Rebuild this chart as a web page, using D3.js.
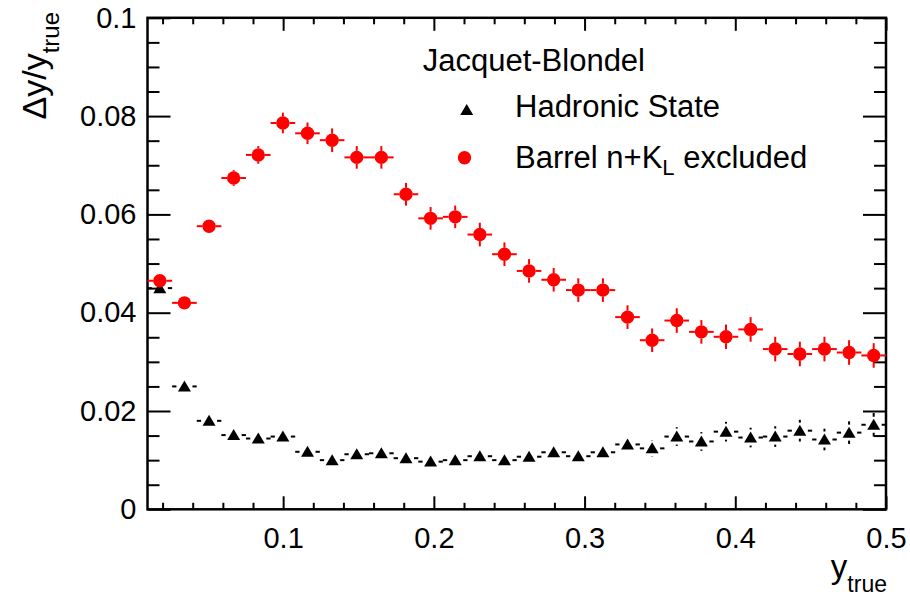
<!DOCTYPE html>
<html>
<head>
<meta charset="utf-8">
<script src="https://cdn.jsdelivr.net/npm/d3@7"></script>
<style>
  html, body { margin: 0; padding: 0; background: #fff; }
  svg { display: block; }
  text { font-family: "Liberation Sans", Arial, Helvetica, sans-serif; }
</style>
</head>
<body>
<svg id="chart" width="910" height="600"></svg>
<script>
// ---- data ----
const binLow = 0.01;
const binHigh = 0.5;
const nBins = 30;
const hadronicValues = [0.0450, 0.0250, 0.0180, 0.0151, 0.0144, 0.0148, 0.0117, 0.0100, 0.0112, 0.0114,
                        0.0104, 0.0097, 0.0100, 0.0108, 0.0100, 0.0107, 0.0116, 0.0108, 0.0116, 0.0132,
                        0.0124, 0.0148, 0.0138, 0.0158, 0.0146, 0.0148, 0.0160, 0.0142, 0.0156, 0.0172];
const hadronicErrors = [0.0008, 0.0008, 0.0008, 0.0008, 0.0008, 0.0008, 0.0009, 0.0009, 0.0009, 0.0010,
                        0.0010, 0.0010, 0.0011, 0.0012, 0.0012, 0.0013, 0.0014, 0.0014, 0.0015, 0.0016,
                        0.0017, 0.0019, 0.0019, 0.0020, 0.0020, 0.0021, 0.0022, 0.0022, 0.0023, 0.0024];
const barrelValues = [0.0465, 0.0420, 0.0576, 0.0674, 0.0721, 0.0786, 0.0765, 0.0751, 0.0716, 0.0716,
                      0.0641, 0.0592, 0.0595, 0.0559, 0.0519, 0.0485, 0.0467, 0.0446, 0.0446, 0.0391,
                      0.0344, 0.0384, 0.0361, 0.0351, 0.0366, 0.0326, 0.0316, 0.0326, 0.0319, 0.0313];
const barrelErrors = [0.0010, 0.0011, 0.0013, 0.0016, 0.0018, 0.0021, 0.0022, 0.0024, 0.0023, 0.0023,
                      0.0023, 0.0023, 0.0023, 0.0024, 0.0024, 0.0024, 0.0024, 0.0024, 0.0024, 0.0024,
                      0.0024, 0.0025, 0.0024, 0.0025, 0.0025, 0.0025, 0.0025, 0.0025, 0.0025, 0.0025];
const xMajorTicks = [0.1, 0.2, 0.3, 0.4, 0.5];
const xMinorTicks = [0.02, 0.04, 0.06, 0.08, 0.12, 0.14, 0.16, 0.18, 0.22, 0.24, 0.26, 0.28,
                     0.32, 0.34, 0.36, 0.38, 0.42, 0.44, 0.46, 0.48];
const yMajorTicks = [0, 0.02, 0.04, 0.06, 0.08, 0.1];
const yMinorTicks = [0.005, 0.01, 0.015, 0.025, 0.03, 0.035, 0.045, 0.05, 0.055,
                     0.065, 0.07, 0.075, 0.085, 0.09, 0.095];
const xTickLabels = ["0.1", "0.2", "0.3", "0.4", "0.5"];
const yTickLabels = ["0", "0.02", "0.04", "0.06", "0.08", "0.1"];
const legendHeader = "Jacquet-Blondel";
const seriesNames = ["Hadronic State", "Barrel n+K", "L", " excluded"];

// ---- layout ----
const L = 147.5, R = 886, T = 17.8, B = 509.3;
const FONT = "'Liberation Sans', Arial, Helvetica, sans-serif";
const svg = d3.select("#chart");
svg.append("rect").attr("width", 910).attr("height", 600).attr("fill", "#fff");

const x = d3.scaleLinear().domain([binLow, binHigh]).range([L, R]);
const y = d3.scaleLinear().domain([0, 0.1]).range([B, T]);
const bw = (binHigh - binLow) / nBins;
const centers = d3.range(nBins).map(i => binLow + (i + 0.5) * bw);

function styleAxis(g, sw) {
  g.select(".domain").remove();
  g.selectAll(".tick line").attr("stroke", "#000").attr("stroke-width", sw);
}

// bottom axis major with labels
const gxb = svg.append("g").attr("transform", `translate(0,${B})`)
  .call(d3.axisBottom(x).tickValues(xMajorTicks).tickSize(-13).tickPadding(18)
        .tickFormat((d, i) => xTickLabels[i]));
styleAxis(gxb, 2);
gxb.selectAll(".tick text").attr("font-size", 29).attr("fill", "#000").attr("font-family", FONT);
const gxbm = svg.append("g").attr("transform", `translate(0,${B})`)
  .call(d3.axisBottom(x).tickValues(xMinorTicks).tickSize(-6.5).tickFormat(""));
styleAxis(gxbm, 2);
// top axis
const gxt = svg.append("g").attr("transform", `translate(0,${T})`)
  .call(d3.axisTop(x).tickValues(xMajorTicks).tickSize(-13).tickFormat(""));
styleAxis(gxt, 2);
const gxtm = svg.append("g").attr("transform", `translate(0,${T})`)
  .call(d3.axisTop(x).tickValues(xMinorTicks).tickSize(-6.5).tickFormat(""));
styleAxis(gxtm, 2);
// left axis
const gyl = svg.append("g").attr("transform", `translate(${L},0)`)
  .call(d3.axisLeft(y).tickValues(yMajorTicks).tickSize(-23).tickPadding(11)
        .tickFormat((d, i) => yTickLabels[i]));
styleAxis(gyl, 2);
gyl.selectAll(".tick text").attr("font-size", 29).attr("fill", "#000").attr("font-family", FONT);
const gylm = svg.append("g").attr("transform", `translate(${L},0)`)
  .call(d3.axisLeft(y).tickValues(yMinorTicks).tickSize(-12).tickFormat(""));
styleAxis(gylm, 2);
// right axis
const gyr = svg.append("g").attr("transform", `translate(${R},0)`)
  .call(d3.axisRight(y).tickValues(yMajorTicks).tickSize(-23).tickFormat(""));
styleAxis(gyr, 2);
const gyrm = svg.append("g").attr("transform", `translate(${R},0)`)
  .call(d3.axisRight(y).tickValues(yMinorTicks).tickSize(-12).tickFormat(""));
styleAxis(gyrm, 2);

// frame
svg.append("rect").attr("x", L).attr("y", T).attr("width", R - L).attr("height", B - T)
  .attr("fill", "none").attr("stroke", "#000").attr("stroke-width", 2.5);

// ---- error bars and markers ----
function drawSeries(values, errors, color, gap, markerFn) {
  const g = svg.append("g");
  values.forEach((v, i) => {
    const cx = x(centers[i]), cy = y(v);
    const xl = x(centers[i] - bw / 2), xr = x(centers[i] + bw / 2);
    g.append("line").attr("x1", xl).attr("x2", cx - gap).attr("y1", cy).attr("y2", cy)
      .attr("stroke", color).attr("stroke-width", 2);
    g.append("line").attr("x1", cx + gap).attr("x2", xr).attr("y1", cy).attr("y2", cy)
      .attr("stroke", color).attr("stroke-width", 2);
    const yu = y(v + errors[i]), yd = y(v - errors[i]);
    if (cy - yu > gap) {
      g.append("line").attr("x1", cx).attr("x2", cx).attr("y1", cy - gap).attr("y2", yu)
        .attr("stroke", color).attr("stroke-width", 2);
      g.append("line").attr("x1", cx).attr("x2", cx).attr("y1", cy + gap).attr("y2", yd)
        .attr("stroke", color).attr("stroke-width", 2);
    }
    markerFn(g, cx, cy);
  });
}
const tri = (g, cx, cy) => g.append("path")
  .attr("d", `M${cx},${cy - 6} L${cx + 6.5},${cy + 5} L${cx - 6.5},${cy + 5} Z`).attr("fill", "#000");
const circ = (g, cx, cy) => g.append("circle").attr("cx", cx).attr("cy", cy).attr("r", 6.7).attr("fill", "#ff0000");

drawSeries(hadronicValues, hadronicErrors, "#000", 8, tri);
drawSeries(barrelValues, barrelErrors, "#ff0000", 6.5, circ);

// ---- legend ----
const lg = svg.append("g");
lg.append("text").attr("x", 422.7).attr("y", 70.7).attr("font-size", 31).text(legendHeader);
tri(lg, 466.7, 110);
lg.append("text").attr("x", 515).attr("y", 117.3).attr("font-size", 31).text(seriesNames[0]);
circ(lg, 464.5, 157.7);
const t2 = lg.append("text").attr("x", 515).attr("y", 168.3).attr("font-size", 31);
t2.append("tspan").text(seriesNames[1]);
t2.append("tspan").attr("font-size", 22).attr("dy", 7).text(seriesNames[2]);
t2.append("tspan").attr("dy", -7).text(seriesNames[3]);

// ---- axis titles ----
const xt = svg.append("text").attr("x", 887).attr("y", 578).attr("text-anchor", "end").attr("font-size", 33);
xt.append("tspan").text("y");
xt.append("tspan").attr("font-size", 23).attr("dy", 14).text("true");

const yt = svg.append("text").attr("transform", "translate(46,12) rotate(-90)")
  .attr("text-anchor", "end").attr("font-size", 34);
yt.append("tspan").text("Δy/y");
yt.append("tspan").attr("font-size", 24).attr("dy", 13).text("true");
</script>
</body>
</html>
